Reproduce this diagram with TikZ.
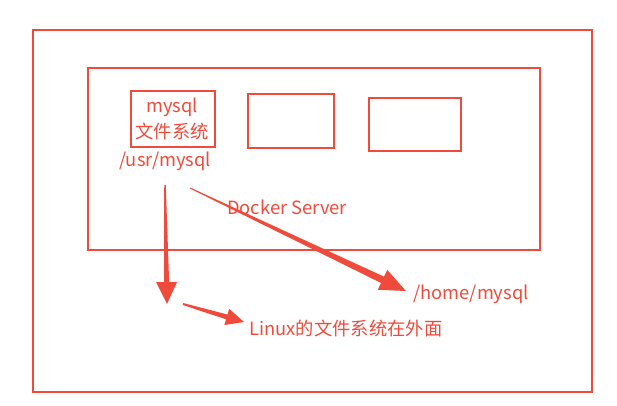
\documentclass[tikz,border=0pt]{standalone}
\usepackage{fontspec}
\setmainfont{Noto Sans CJK SC}
\usetikzlibrary{calc}
\definecolor{rd}{HTML}{EE4B3C}
\tikzset{
  box/.style={draw=rd, line width=2.2pt},
  lbl/.style={text=rd, font=\fontsize{18.3}{20}\selectfont, inner sep=0pt},
}
% tapered arrow: #1 start, #2 end, #3 start width, #4 end shaft width, #5 head length, #6 head width
\newcommand\taper[6]{%
  \coordinate (hb) at ($(#2)!#5!(#1)$);
  \fill[rd] ($(#1)!#3/2!90:(#2)$) -- ($(hb)!#4/2!-90:(#1)$) -- ($(hb)!#6/2!-90:(#1)$) -- (#2)
     -- ($(hb)!#6/2!90:(#1)$) -- ($(hb)!#4/2!90:(#1)$) -- ($(#1)!#3/2!-90:(#2)$) -- cycle;
}
\begin{document}
\begin{tikzpicture}[x=1pt,y=-1pt]
\useasboundingbox[fill=white] (0,0) rectangle (617,405);
\draw[box] (33,30) rectangle (592,392);
\draw[box] (88,68) rectangle (540,250);
\node[box, minimum width=84pt, minimum height=56pt, anchor=north west] (c1) at (130,90) {};
\node[box, minimum width=86pt, minimum height=54pt, anchor=north west] (c2) at (247,93) {};
\node[box, minimum width=92pt, minimum height=53pt, anchor=north west] (c3) at (368,97) {};
\node[lbl] (t1) at (172,107) {mysql};
\node[lbl] (t2) at (172,131) {文件系统};
\node[lbl] (usr) at (165,161) {/usr/mysql};
\node[lbl] (ds) at (287,207) {Docker Server};
\node[lbl] (home) at (471,294) {/home/mysql};
\node[lbl] (lx) at (346,328) {Linux的文件系统在外面};
\coordinate (a1s) at (165,185);
\coordinate (a1e) at (167,304);
\coordinate (a2s) at (190,188);
\coordinate (a2e) at (406,291);
\coordinate (a3s) at (183,304);
\coordinate (a3e) at (244,322);
\taper{a1s}{a1e}{1.5pt}{5pt}{22pt}{21pt}
\taper{a2s}{a2e}{1pt}{7pt}{26pt}{22pt}
\taper{a3s}{a3e}{2pt}{5pt}{18pt}{17pt}
\end{tikzpicture}
\end{document}
